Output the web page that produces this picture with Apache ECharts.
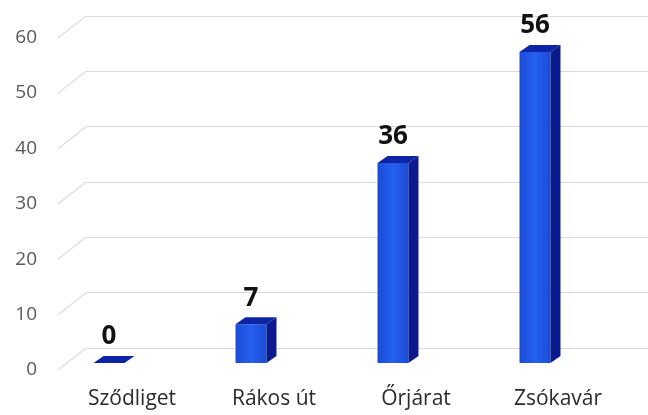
<!DOCTYPE html>
<html>
<head>
<meta charset="utf-8">
<script src="https://cdn.jsdelivr.net/npm/echarts@6/dist/echarts.min.js"></script>
<style>
  html, body { margin: 0; padding: 0; background: #fff; }
  #chart { width: 648px; height: 415px; }
</style>
</head>
<body>
<div id="chart"></div>
<script>
// Locations and counts
const categories = ['Sződliget', 'Rákos út', 'Őrjárat', 'Zsókavár'];
const counts = [0, 7, 36, 56];
const tickValues = [0, 10, 20, 30, 40, 50, 60];

const FONT = '"Open Sans", Lato, sans-serif';
const DEPTH_X = 10, DEPTH_Y = -7;       // bar depth offset
const WALL_X = 28, WALL_Y = 22;         // back wall -> front plane offset

const chart = echarts.init(document.getElementById('chart'));

chart.setOption({
  animation: false,
  backgroundColor: '#ffffff',
  grid: [
    // back wall with horizontal gridlines
    { left: 86, right: 0, top: 16, height: 332 },
    // front plane carrying the axis labels
    { left: 61, width: 568, top: 37.5, height: 332.5 },
    // plane where the bars stand
    { left: 38, width: 568, top: 29.8, height: 333.2 }
  ],
  xAxis: [
    { gridIndex: 0, type: 'category', data: categories, show: false },
    {
      gridIndex: 1, type: 'category', data: categories,
      axisLine: { show: false }, axisTick: { show: false },
      axisLabel: { margin: 19, color: '#2b2b2b', fontSize: 21, fontFamily: FONT }
    },
    { gridIndex: 2, type: 'category', data: categories, show: false }
  ],
  yAxis: [
    {
      gridIndex: 0, type: 'value', min: 0, max: 60, interval: 10,
      axisLine: { show: false }, axisTick: { show: false }, axisLabel: { show: false },
      splitLine: { lineStyle: { color: '#dcd8ea', width: 1.2 } }
    },
    {
      gridIndex: 1, type: 'value', min: 0, max: 60, interval: 10,
      axisLine: { show: false }, axisTick: { show: false }, splitLine: { show: false },
      axisLabel: { margin: 24, color: '#595959', fontSize: 19, fontFamily: FONT }
    },
    {
      gridIndex: 2, type: 'value', min: 0, max: 60, interval: 10, show: false
    }
  ],
  series: [
    {
      // short side-wall lines joining the front plane to the back wall
      type: 'custom',
      xAxisIndex: 0, yAxisIndex: 0,
      data: tickValues.map(v => [0, v]),
      silent: true,
      renderItem(params, api) {
        const y = api.coord([0, api.value(1)])[1];
        const x = params.coordSys.x;
        return {
          type: 'line',
          shape: { x1: x - WALL_X, y1: y + WALL_Y, x2: x, y2: y },
          style: { stroke: '#dddddd', lineWidth: 1.2 }
        };
      }
    },
    {
      type: 'custom',
      xAxisIndex: 2, yAxisIndex: 2,
      data: counts.map((v, i) => [i, v]),
      renderItem(params, api) {
        const i = api.value(0), v = api.value(1);
        const base = api.coord([i, 0]);
        const top = api.coord([i, v]);
        const w = api.size([1, 0])[0] * 0.218;
        const x0 = base[0] - w / 2, x1 = base[0] + w / 2;
        const y0 = base[1], y1 = top[1];
        return {
          type: 'group',
          children: [
            {
              type: 'rect',
              shape: { x: x0, y: y1, width: w, height: y0 - y1 },
              style: {
                fill: new echarts.graphic.LinearGradient(0, 0, 1, 0, [
                  { offset: 0, color: '#1a4bd6' },
                  { offset: 0.5, color: '#2560ee' },
                  { offset: 1, color: '#1a4bd6' }
                ])
              }
            },
            {
              type: 'polygon',
              shape: { points: [[x1, y1], [x1 + DEPTH_X, y1 + DEPTH_Y], [x1 + DEPTH_X, y0 + DEPTH_Y], [x1, y0]] },
              style: { fill: '#0b1a8c' }
            },
            {
              type: 'polygon',
              shape: { points: [[x0, y1], [x0 + DEPTH_X, y1 + DEPTH_Y], [x1 + DEPTH_X, y1 + DEPTH_Y], [x1, y1]] },
              style: { fill: '#0d24a6' }
            },
            {
              type: 'text',
              style: {
                text: String(v),
                x: base[0], y: y1 - 13,
                align: 'center', verticalAlign: 'bottom',
                fill: '#111111',
                font: 'bold 26px ' + FONT
              }
            }
          ]
        };
      }
    }
  ]
});
</script>
</body>
</html>
